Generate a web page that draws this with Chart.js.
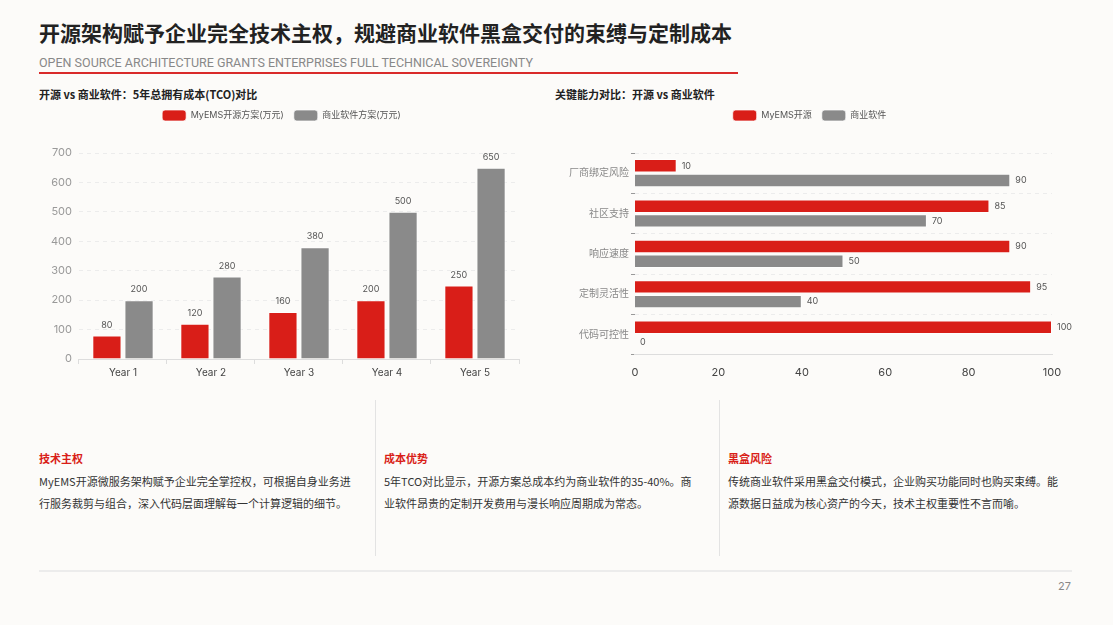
<!DOCTYPE html>
<html>
<head>
<meta charset="utf-8">
<script src="https://cdn.jsdelivr.net/npm/chart.js@4"></script>
<style>
  body { margin:0; width:1113px; height:625px; background:#fcfbf9; font-family: Inter, "Noto Sans CJK SC", sans-serif; position:relative; overflow:hidden; color:#333; }
  .abs { position:absolute; }
  h1 { position:absolute; left:39px; top:17px; margin:0; font-size:21px; font-weight:700; color:#222; font-family:"Noto Sans CJK SC", sans-serif; }
  .sub { left:39px; top:55px; font-size:12.5px; color:#888; font-family:Roboto, sans-serif; }
  .redline { left:39px; top:72px; width:699px; height:2px; background:#d92a2a; }
  .ctitle { top:86px; font-size:11px; font-weight:700; color:#222; font-family:"Noto Sans CJK SC", sans-serif; }
  .col { top:450px; font-family:"Noto Sans CJK SC", sans-serif; }
  .col h3 { margin:0 0 4px 0; font-size:11px; color:#d91e18; font-weight:700; }
  .col p { margin:0; font-size:11px; line-height:22px; color:#333; }
  .vline { top:400px; width:1px; height:156px; background:#e3e3e3; }
  .hline { left:39px; top:570px; width:1033px; height:2px; background:#ececec; }
  .page { left:1058px; top:579px; font-size:11px; color:#888; }
</style>
</head>
<body>
<h1>开源架构赋予企业完全技术主权，规避商业软件黑盒交付的束缚与定制成本</h1>
<div class="abs sub">OPEN SOURCE ARCHITECTURE GRANTS ENTERPRISES FULL TECHNICAL SOVEREIGNTY</div>
<div class="abs redline"></div>

<div class="abs ctitle" style="left:39px">开源 vs 商业软件：5年总拥有成本(TCO)对比</div>
<div class="abs ctitle" style="left:555px">关键能力对比：开源 vs 商业软件</div>

<div class="abs" style="left:39px; top:100px; width:486px; height:282px"><canvas id="tco"></canvas></div>
<div class="abs" style="left:555px; top:100px; width:517px; height:282px"><canvas id="cap"></canvas></div>

<div class="abs vline" style="left:375px"></div>
<div class="abs vline" style="left:719px"></div>

<div class="abs col" style="left:39px; width:330px">
  <h3>技术主权</h3>
  <p>MyEMS开源微服务架构赋予企业完全掌控权，可根据自身业务进<br>行服务裁剪与组合，深入代码层面理解每一个计算逻辑的细节。</p>
</div>
<div class="abs col" style="left:384px; width:330px">
  <h3>成本优势</h3>
  <p>5年TCO对比显示，开源方案总成本约为商业软件的35-40%。商<br>业软件昂贵的定制开发费用与漫长响应周期成为常态。</p>
</div>
<div class="abs col" style="left:728px; width:340px">
  <h3>黑盒风险</h3>
  <p>传统商业软件采用黑盒交付模式，企业购买功能同时也购买束缚。能<br>源数据日益成为核心资产的今天，技术主权重要性不言而喻。</p>
</div>

<div class="abs hline"></div>
<div class="abs page">27</div>

<script>
var years = ["Year 1", "Year 2", "Year 3", "Year 4", "Year 5"];
var openCost = [80, 120, 160, 200, 250];
var commCost = [200, 280, 380, 500, 650];

var capLabels = ["厂商绑定风险", "社区支持", "响应速度", "定制灵活性", "代码可控性"];
var capOpen = [10, 85, 90, 95, 100];
var capComm = [90, 70, 50, 40, 0];

var RED = "#d91e18";
var GRAY = "#8a8a8a";
var FONT = "Inter, 'Noto Sans CJK SC', sans-serif";

Chart.defaults.font.family = FONT;
Chart.defaults.animation = false;

// draws the value next to each bar
var valueLabels = {
	id: "valueLabels",
	afterDatasetsDraw: function(chart) {
		var ctx = chart.ctx;
		var horiz = chart.options.indexAxis === "y";
		ctx.save();
		ctx.font = "9px " + FONT;
		ctx.fillStyle = "#555";
		chart.data.datasets.forEach(function(ds, i) {
			var meta = chart.getDatasetMeta(i);
			meta.data.forEach(function(bar, j) {
				var v = ds.data[j];
				if (horiz) {
					ctx.textAlign = "left";
					ctx.textBaseline = "middle";
					ctx.fillText(v, bar.x + 5, bar.y);
				} else {
					ctx.textAlign = "center";
					ctx.textBaseline = "bottom";
					ctx.fillText(v, bar.x, bar.y - 6);
				}
			});
		});
		ctx.restore();
	}
};

// extra room under the legend
var legendGap = {
	id: "legendGap",
	beforeInit: function(chart) {
		var fit = chart.legend.fit;
		chart.legend.fit = function() {
			fit.bind(chart.legend)();
			this.height += 22;
		};
	}
};

var legendOpts = {
	position: "top",
	labels: { boxWidth: 24, boxHeight: 11, useBorderRadius: true, borderRadius: 3, color: "#555", font: { size: 9 }, padding: 10 }
};

new Chart(document.getElementById("tco"), {
	type: "bar",
	data: {
		labels: years,
		datasets: [
			{ label: "MyEMS开源方案(万元)", data: openCost, backgroundColor: RED, borderColor: "rgba(255,255,255,0.7)", borderWidth: 1 },
			{ label: "商业软件方案(万元)", data: commCost, backgroundColor: GRAY, borderColor: "rgba(255,255,255,0.7)", borderWidth: 1 }
		]
	},
	options: {
		responsive: true,
		maintainAspectRatio: false,
		categoryPercentage: 0.73,
		barPercentage: 0.91,
		layout: { padding: { left: 5, right: 6, top: 0, bottom: 0 } },
		plugins: { legend: legendOpts, tooltip: { enabled: false } },
		scales: {
			x: {
				grid: { display: true, drawOnChartArea: false, color: "#ddd", tickLength: 5 },
				border: { color: "#ddd" },
				ticks: { color: "#444", font: { size: 10 } }
			},
			y: {
				min: 0, max: 700,
				ticks: { stepSize: 100, color: "#999", font: { size: 11 }, padding: 7 },
				grid: { color: "#ececec", drawTicks: false },
				border: { display: false, dash: [4, 4] }
			}
		}
	},
	plugins: [valueLabels, legendGap]
});

new Chart(document.getElementById("cap"), {
	type: "bar",
	data: {
		labels: capLabels,
		datasets: [
			{ label: "MyEMS开源", data: capOpen, backgroundColor: RED, borderColor: "rgba(255,255,255,0.7)", borderWidth: 1 },
			{ label: "商业软件", data: capComm, backgroundColor: GRAY, borderColor: "rgba(255,255,255,0.7)", borderWidth: 1 }
		]
	},
	options: {
		indexAxis: "y",
		responsive: true,
		maintainAspectRatio: false,
		categoryPercentage: 0.73,
		barPercentage: 0.91,
		layout: { padding: { left: 12, right: 20, top: 0, bottom: 0 } },
		plugins: { legend: legendOpts, tooltip: { enabled: false } },
		scales: {
			x: {
				min: 0, max: 100,
				ticks: { stepSize: 20, color: "#444", font: { size: 11 } },
				grid: { display: false },
				border: { color: "#ddd" }
			},
			y: {
				ticks: { color: "#888", font: { size: 10 }, padding: 2 },
				grid: { color: "#ececec", offset: true, tickLength: 4, tickColor: "#999" },
				border: { display: false, dash: [4, 4] }
			}
		}
	},
	plugins: [valueLabels, legendGap]
});
</script>
</body>
</html>
